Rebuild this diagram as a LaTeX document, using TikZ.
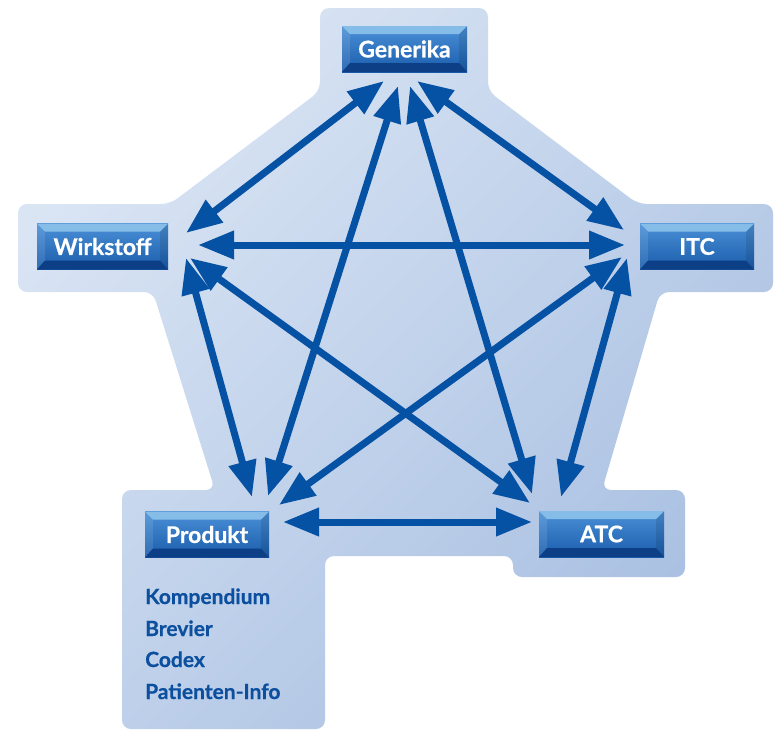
\documentclass[tikz,border=0pt]{standalone}
\usepackage{fontspec}
\setmainfont{Lato}[BoldFeatures={FakeBold=0.6}]
\usetikzlibrary{arrows.meta,calc}
\definecolor{arrowblue}{HTML}{0551A4}
\definecolor{listblue}{HTML}{0B4F9E}
\definecolor{panellight}{HTML}{DAE5F4}
\definecolor{paneldark}{HTML}{A9C0E2}
\definecolor{btntop}{HTML}{86BCE8}
\definecolor{btnhi}{HTML}{4A90D6}
\definecolor{btnlo}{HTML}{1A5CAC}
\definecolor{btnbottom}{HTML}{0C3F85}
\tikzset{
  btn/.style={minimum width=#1, minimum height=46pt, inner sep=0pt, text=white,
    font=\fontsize{23}{26}\selectfont\bfseries,
    path picture={
      \coordinate (bsw) at (path picture bounding box.south west);
      \coordinate (bne) at (path picture bounding box.north east);
      \coordinate (bnw) at (path picture bounding box.north west);
      \coordinate (bse) at (path picture bounding box.south east);
      \shade[top color=btnhi, bottom color=btnlo] (bsw) rectangle (bne);
      \fill[white, opacity=0.10] (bnw) -- ($(bnw)+(8pt,-8pt)$) -- ($(bsw)+(8pt,9pt)$) -- (bsw) -- cycle;
      \fill[black, opacity=0.10] (bne) -- ($(bne)+(-8pt,-8pt)$) -- ($(bse)+(-8pt,9pt)$) -- (bse) -- cycle;
      \fill[btntop] (bnw) -- (bne) -- ($(bne)+(-8pt,-8pt)$) -- ($(bnw)+(8pt,-8pt)$) -- cycle;
      \fill[btnbottom] (bsw) -- (bse) -- ($(bse)+(-8pt,9pt)$) -- ($(bsw)+(8pt,9pt)$) -- cycle;
    }},
  link/.style={draw=arrowblue, line width=7pt,
    arrows={Triangle[length=36pt,width=27pt]-Triangle[length=36pt,width=27pt]}},
  listtxt/.style={anchor=base west, inner sep=0pt, text=listblue,
    font=\fontsize{21}{24}\selectfont\bfseries},
  panel/.style={top color=panellight, bottom color=paneldark, shading angle=45,
    rounded corners=9pt},
}
\begin{document}
\begin{tikzpicture}[x=1pt,y=-1pt]
\useasboundingbox (0,0) rectangle (776,732);
% background panel
\shade[panel] (320,8) -- (488,8) -- (488,91) -- (638,204) -- (773,204) -- (773,292)
  -- (660,292) -- (602,490) -- (685,490) -- (685,577) -- (513,577) -- (513,556)
  -- (325,556) -- (325,729) -- (122,729) -- (122,490) -- (215,490) -- (153,292)
  -- (18,292) -- (18,204) -- (170,204) -- (320,91) -- cycle;
% boxes
\node[btn=125pt] (G) at (404.5,49) {Generika};
\node[btn=131pt] (W) at (102.5,246.5) {Wirkstoff};
\node[btn=114pt] (I) at (697,246.5) {ITC};
\node[btn=124pt] (P) at (207,534.5) {Produkt};
\node[btn=125pt] (A) at (601.5,534) {ATC};
% list
\node[listtxt] (k1) at (145,604) {Kompendium};
\node[listtxt] (k2) at (145,636) {Brevier};
\node[listtxt] (k3) at (145,667) {Codex};
\node[listtxt] (k4) at (145,699) {Patienten-Info};
% arrow tip points
\coordinate (Gw) at (384,81);
\coordinate (Gp) at (398,86);
\coordinate (Ga) at (410,86);
\coordinate (Gi) at (417,81);
\coordinate (Wg) at (186,233);
\coordinate (Wi) at (198,245);
\coordinate (Wa) at (190,258);
\coordinate (Wp) at (186,258);
\coordinate (Ig) at (624,230);
\coordinate (Iw) at (625,245);
\coordinate (Ip) at (622,257);
\coordinate (Ia) at (627,258);
\coordinate (Pw) at (252,497);
\coordinate (Pg) at (268,496);
\coordinate (Pi) at (279,505);
\coordinate (Pa) at (283,522);
\coordinate (Aw) at (530,503);
\coordinate (Ag) at (532,494);
\coordinate (Ai) at (561,497);
\coordinate (Ap) at (532,522);
% connectors
\draw[link] (Gw) -- (Wg);
\draw[link] (Gi) -- (Ig);
\draw[link] (Gp) -- (Pg);
\draw[link] (Ga) -- (Ag);
\draw[link] (Wi) -- (Iw);
\draw[link] (Wp) -- (Pw);
\draw[link] (Wa) -- (Aw);
\draw[link] (Ip) -- (Pi);
\draw[link] (Ia) -- (Ai);
\draw[link] (Pa) -- (Ap);
\end{tikzpicture}
\end{document}
